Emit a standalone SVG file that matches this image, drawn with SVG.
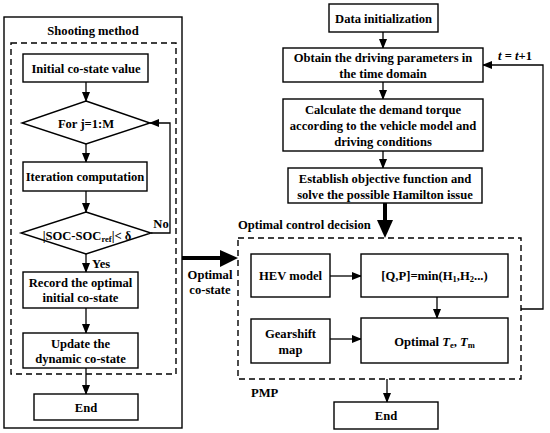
<svg xmlns="http://www.w3.org/2000/svg" width="550" height="433" viewBox="0 0 550 433">
<style>
text{font-family:"Liberation Serif","Times New Roman",serif;font-weight:bold;font-size:12.6px;fill:#000;text-anchor:middle}
.box{fill:#fff;stroke:#000;stroke-width:1.4}
.frame{fill:none;stroke:#000;stroke-width:1.4}
.dash{fill:none;stroke:#000;stroke-width:1.4;stroke-dasharray:6,4}
.ln{fill:none;stroke:#000;stroke-width:1.3}
.thick{fill:none;stroke:#000;stroke-width:4}
.l{text-anchor:start}
.sub{font-size:8.5px}
</style>
<defs>
<marker id="arr" markerUnits="userSpaceOnUse" markerWidth="10" markerHeight="8" refX="9" refY="4" orient="auto">
<path d="M0,0 L10,4 L0,8 z" fill="#000"/>
</marker>
</defs>

<rect class="frame" x="4" y="17" width="178" height="411"/>
<text x="93" y="35">Shooting method</text>
<rect class="dash" x="11" y="43" width="165" height="331"/>

<g id="connectors">
<line class="ln" x1="86" y1="82" x2="86" y2="101" marker-end="url(#arr)"/>
<line class="ln" x1="86" y1="144" x2="86" y2="162" marker-end="url(#arr)"/>
<line class="ln" x1="86" y1="191" x2="86" y2="212" marker-end="url(#arr)"/>
<polyline class="ln" points="151,233 170,233 170,123 150,123" marker-end="url(#arr)"/>
<line class="ln" x1="86" y1="254" x2="86" y2="272" marker-end="url(#arr)"/>
<line class="ln" x1="86" y1="308" x2="86" y2="333" marker-end="url(#arr)"/>
<line class="ln" x1="86" y1="368" x2="86" y2="394" marker-end="url(#arr)"/>

<line class="ln" x1="383" y1="32" x2="383" y2="48" marker-end="url(#arr)"/>
<line class="ln" x1="383" y1="82" x2="383" y2="99" marker-end="url(#arr)"/>
<line class="ln" x1="383" y1="151" x2="383" y2="168" marker-end="url(#arr)"/>
<line class="thick" x1="385" y1="203" x2="385" y2="222"/>
<polygon points="377,220 393,220 385,238" fill="#000"/>
<line class="thick" x1="182" y1="258" x2="222" y2="258"/>
<polygon points="220,250 220,267 238,258" fill="#000"/>
<line class="ln" x1="330" y1="276" x2="361" y2="276" marker-end="url(#arr)"/>
<line class="ln" x1="437" y1="297" x2="437" y2="318" marker-end="url(#arr)"/>
<line class="ln" x1="330" y1="339" x2="361" y2="339" marker-end="url(#arr)"/>
<line class="ln" x1="387" y1="379" x2="387" y2="402" marker-end="url(#arr)"/>
<polyline class="ln" points="521,309 543,309 543,65 483,65" marker-end="url(#arr)"/>
</g>

<g id="n-init">
<rect class="box" x="23" y="54" width="125" height="28"/>
<text x="86" y="72.5">Initial co-state value</text>
</g>
<g id="n-for">
<polygon class="box" points="86,101 150,123 86,144 22,123"/>
<text x="86" y="127.5">For j=1:M</text>
</g>
<g id="n-iter">
<rect class="box" x="23" y="162" width="124" height="29"/>
<text x="85" y="181">Iteration computation</text>
</g>
<g id="n-soc">
<polygon class="box" points="86,212 151,233 86,254 21,233"/>
<text x="87" y="240">|SOC-SOC<tspan class="sub" dy="2">ref</tspan><tspan dy="-2">|&lt; δ</tspan></text>
</g>
<text x="161" y="228">No</text>
<text class="l" x="92" y="268">Yes</text>
<g id="n-record">
<rect class="box" x="23" y="272" width="115" height="36"/>
<text x="80.5" y="286.5">Record the optimal</text>
<text x="80.5" y="302">initial co-state</text>
</g>
<g id="n-update">
<rect class="box" x="23" y="333" width="115" height="35"/>
<text x="80.5" y="348">Update the</text>
<text x="80.5" y="363">dynamic co-state</text>
</g>
<g id="n-end1">
<rect class="box" x="34" y="394" width="104" height="26"/>
<text x="86" y="411.5">End</text>
</g>

<g id="n-data">
<rect class="box" x="329" y="4" width="109" height="28"/>
<text x="383.5" y="23">Data initialization</text>
</g>
<g id="n-obtain">
<rect class="box" x="283" y="48" width="200" height="34"/>
<text x="383" y="62">Obtain the driving parameters in</text>
<text x="383" y="77.5">the time domain</text>
</g>
<text x="515" y="60"><tspan font-style="italic">t</tspan> = <tspan font-style="italic">t</tspan>+1</text>
<g id="n-calc">
<rect class="box" x="283" y="99" width="200" height="52"/>
<text x="383" y="114">Calculate the demand torque</text>
<text x="383" y="130">according to the vehicle model and</text>
<text x="383" y="145.5">driving conditions</text>
</g>
<g id="n-estab">
<rect class="box" x="288" y="168" width="194" height="35"/>
<text x="385" y="183">Establish objective function and</text>
<text x="385" y="198.5">solve the possible Hamilton issue</text>
</g>

<text class="l" x="238" y="229">Optimal control decision</text>
<rect class="dash" x="238" y="238" width="283" height="141"/>
<text x="210" y="279">Optimal</text>
<text x="210" y="294">co-state</text>
<text class="l" x="251" y="397">PMP</text>

<g id="n-hev">
<rect class="box" x="251" y="254" width="79" height="43"/>
<text x="290.5" y="280">HEV model</text>
</g>
<g id="n-qp">
<rect class="box" x="361" y="254" width="147" height="43"/>
<text x="434.5" y="280">[Q,P]=min(H<tspan class="sub" dy="2">1</tspan><tspan dy="-2">,H</tspan><tspan class="sub" dy="2">2</tspan><tspan dy="-2">...)</tspan></text>
</g>
<g id="n-gear">
<rect class="box" x="251" y="319" width="79" height="44"/>
<text x="290.5" y="338">Gearshift</text>
<text x="290.5" y="354">map</text>
</g>
<g id="n-opt">
<rect class="box" x="361" y="318" width="147" height="45"/>
<text x="434.5" y="346">Optimal <tspan font-style="italic">T</tspan><tspan class="sub" dy="2">e</tspan><tspan dy="-2">, </tspan><tspan font-style="italic">T</tspan><tspan class="sub" dy="2">m</tspan></text>
</g>
<g id="n-end2">
<rect class="box" x="334" y="402" width="104" height="27"/>
<text x="386" y="420">End</text>
</g>
</svg>
